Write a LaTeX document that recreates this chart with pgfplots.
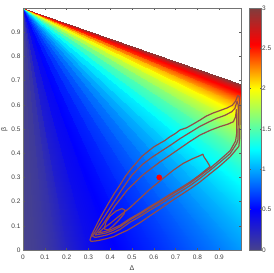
\documentclass[border=0pt]{standalone}
\usepackage{fontspec}
\setmainfont{Liberation Sans}
\usepackage{pgfplots}
\pgfplotsset{compat=1.18}
\definecolor{contourc}{rgb}{0.58,0.30,0.28}
\pgfplotsset{colormap={refjet}{rgb(0pt)=(0.28,0.26,0.55) rgb(50pt)=(0,0,1) rgb(125pt)=(0,1,1) rgb(200pt)=(1,1,0) rgb(255pt)=(1,0,0) rgb(300pt)=(0.5,0.24,0.24)}}
\begin{document}
\begin{tikzpicture}
\begin{axis}[
  at={(0pt,0pt)}, anchor=south west,
  scale only axis, width=218pt, height=242pt,
  xmin=0, xmax=1, ymin=0, ymax=1,
  axis on top,
  xtick={0,0.1,0.2,0.3,0.4,0.5,0.6,0.7,0.8,0.9},
  ytick={0,0.1,0.2,0.3,0.4,0.5,0.6,0.7,0.8,0.9},
  tick align=inside, major tick length=2pt,
  every tick/.style={black!65},
  axis line style={black!55},
  tick label style={font=\fontsize{6.5}{7}\selectfont, text=black!75},
  xticklabel style={yshift=-1.5pt},
  yticklabel style={xshift=1pt},
  /pgf/number format/assume math mode=true,
  xlabel={Δ}, ylabel={β},
  label style={font=\fontsize{7}{8}\selectfont, text=black!75},
  xlabel style={at={(axis description cs:0.5,-0.05)}, anchor=north},
  ylabel style={at={(axis description cs:-0.055,0.5)}, anchor=south},
  colormap name=refjet,
  point meta min=0, point meta max=3,
  colorbar,
  colorbar style={at={(parent axis.north east)}, anchor=north west, xshift=-0.5pt,
    width=12pt, ytick={0,0.5,1,1.5,2,2.5,3}, major tick length=1.5pt,
    tick align=inside,
    every tick/.style={black!65}, axis line style={black!55},
    yticklabel style={font=\fontsize{6.5}{7}\selectfont, text=black!75, anchor=west, inner sep=0.5pt, xshift=0.5pt},
    /pgf/number format/assume math mode=true},
]
\addplot[patch, patch type=triangle, shader=interp, point meta=explicit] table[meta=c]{
x y c
0 1 0.015
0 0 0
0.05 0 0.03
0 1 0.055
0.05 0 0.03
0.1 0 0.08
0 1 0.115
0.1 0 0.08
0.15 0 0.15
0 1 0.2
0.15 0 0.15
0.2 0 0.25
0 1 0.325
0.2 0 0.25
0.3 0 0.4
0 1 0.44
0.3 0 0.4
0.4 0 0.48
0 1 0.515
0.4 0 0.48
0.5 0 0.55
0 1 0.585
0.5 0 0.55
0.6 0 0.62
0 1 0.66
0.6 0 0.62
0.7 0 0.70
0 1 0.74
0.7 0 0.70
0.8 0 0.78
0 1 0.82
0.8 0 0.78
0.9 0 0.86
0 1 0.905
0.9 0 0.86
1 0 0.95
0 1 0.99
1 0 0.95
1 0.091 1.03
0 1 1.07
1 0.091 1.03
1 0.167 1.11
0 1 1.17
1 0.167 1.11
1 0.259 1.23
0 1 1.29
1 0.259 1.23
1 0.333 1.35
0 1 1.435
1 0.333 1.35
1 0.412 1.52
0 1 1.61
1 0.412 1.52
1 0.474 1.70
0 1 1.785
1 0.474 1.70
1 0.524 1.87
0 1 1.95
1 0.524 1.87
1 0.565 2.03
0 1 2.115
1 0.565 2.03
1 0.6 2.2
0 1 2.3
1 0.6 2.2
1 0.63 2.4
0 1 2.5
1 0.63 2.4
1 0.655 2.6
0 1 2.7
1 0.655 2.6
1 0.672 2.8
0 1 2.9
1 0.672 2.8
1 0.6875 3.0
};
% contour 1 (outer)
\addplot[contourc, line width=1.2pt, line join=round] coordinates {
(0.307,0.042) (0.315,0.062) (0.33,0.09) (0.345,0.117) (0.368,0.155) (0.392,0.193) (0.418,0.232) (0.445,0.269) (0.47,0.305) (0.498,0.338) (0.52,0.36) (0.544,0.386) (0.57,0.405) (0.598,0.425) (0.628,0.441) (0.65,0.452) (0.674,0.468) (0.7,0.482) (0.72,0.496) (0.75,0.505) (0.78,0.52) (0.812,0.537) (0.84,0.553) (0.872,0.566) (0.9,0.575) (0.936,0.587) (0.96,0.598) (0.975,0.615) (0.985,0.638) (0.992,0.635) (0.995,0.6) (0.995,0.52) (0.994,0.46) (0.99,0.428) (0.95,0.385) (0.9,0.345) (0.858,0.315) (0.81,0.28) (0.766,0.252) (0.72,0.225) (0.674,0.198) (0.63,0.17) (0.58,0.14) (0.54,0.115) (0.506,0.096) (0.475,0.08) (0.445,0.068) (0.415,0.055) (0.384,0.047) (0.35,0.04) (0.33,0.037) (0.312,0.036) (0.307,0.042)
};
% contour 2
\addplot[contourc, line width=1.2pt, line join=round] coordinates {
(0.318,0.058) (0.335,0.08) (0.35,0.105) (0.375,0.14) (0.40,0.175) (0.425,0.21) (0.45,0.245) (0.475,0.278) (0.5,0.31) (0.525,0.333) (0.55,0.355) (0.59,0.382) (0.63,0.406) (0.675,0.432) (0.72,0.46) (0.765,0.485) (0.81,0.51) (0.85,0.528) (0.888,0.544) (0.925,0.556) (0.957,0.571) (0.972,0.585) (0.982,0.615) (0.987,0.6) (0.987,0.52) (0.986,0.455) (0.98,0.44) (0.95,0.398) (0.9,0.36) (0.858,0.329) (0.81,0.295) (0.766,0.266) (0.72,0.24) (0.674,0.215) (0.63,0.19) (0.583,0.165) (0.54,0.14) (0.491,0.115) (0.445,0.085) (0.415,0.072) (0.384,0.062) (0.35,0.055) (0.33,0.052) (0.318,0.058)
};
% contour 3
\addplot[contourc, line width=1.2pt, line join=round] coordinates {
(0.33,0.062) (0.35,0.085) (0.37,0.11) (0.395,0.145) (0.42,0.18) (0.45,0.215) (0.48,0.25) (0.515,0.28) (0.55,0.31) (0.59,0.338) (0.63,0.365) (0.675,0.392) (0.72,0.42) (0.765,0.448) (0.812,0.475) (0.86,0.495) (0.904,0.51) (0.94,0.52) (0.965,0.53) (0.975,0.55) (0.979,0.58) (0.981,0.55) (0.98,0.48) (0.975,0.45) (0.95,0.41) (0.9,0.37) (0.858,0.338) (0.81,0.305) (0.766,0.276) (0.72,0.25) (0.674,0.225) (0.63,0.2) (0.583,0.175) (0.54,0.15) (0.491,0.125) (0.445,0.096) (0.41,0.08) (0.38,0.07) (0.35,0.065) (0.33,0.062)
};
% contour 4
\addplot[contourc, line width=1.2pt, line join=round] coordinates {
(0.345,0.07) (0.37,0.09) (0.40,0.11) (0.445,0.143) (0.491,0.175) (0.535,0.212) (0.583,0.252) (0.635,0.29) (0.69,0.33) (0.735,0.358) (0.78,0.378) (0.812,0.39) (0.825,0.396) (0.83,0.385) (0.845,0.365) (0.858,0.345) (0.81,0.31) (0.766,0.281) (0.72,0.255) (0.674,0.23) (0.63,0.205) (0.583,0.18) (0.54,0.155) (0.491,0.13) (0.445,0.102) (0.40,0.083) (0.37,0.075) (0.345,0.07)
};
% contour 5 (inner)
\addplot[contourc, line width=1.2pt, line join=round] coordinates {
(0.372,0.087) (0.381,0.116) (0.399,0.140) (0.427,0.161) (0.454,0.171) (0.468,0.165) (0.463,0.149) (0.440,0.124) (0.413,0.099) (0.390,0.083) (0.372,0.087)
};
\addplot[only marks, mark=*, mark size=2.6pt, color=red] coordinates {(0.625,0.30)};
\end{axis}
\pgfresetboundingbox
\path[use as bounding box] (-23pt,-23pt) rectangle (250pt,250pt);
\end{tikzpicture}
\end{document}
